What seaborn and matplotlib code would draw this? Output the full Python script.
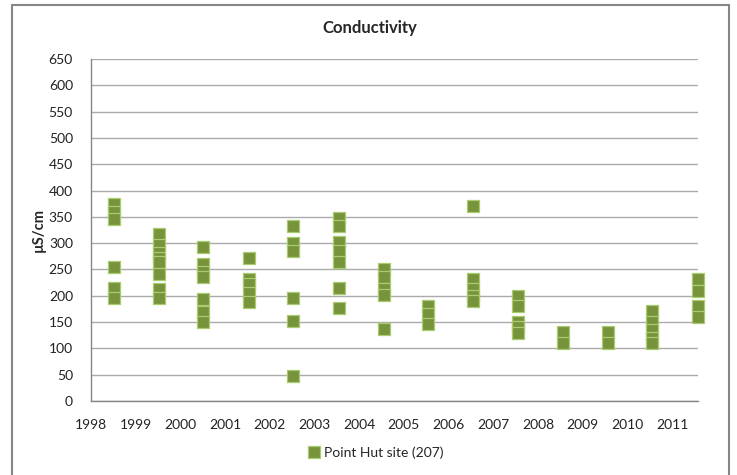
import matplotlib
matplotlib.use("Agg")
import matplotlib.pyplot as plt
import seaborn as sns
import pandas as pd
from matplotlib.lines import Line2D

# ---- data ----
sample_pos = [1998.51, 1999.52, 2000.51, 2001.53, 2002.53, 2003.54, 2004.55,
              2005.55, 2006.54, 2007.55, 2008.55, 2009.56, 2010.56, 2011.57]
v1998 = [375, 360, 345, 255, 215, 195]
v1999 = [318, 297, 282, 272, 265, 241, 212, 195]
v2000 = [293, 260, 245, 235, 193, 170, 150]
v2001 = [272, 232, 222, 205, 188]
v2002 = [333, 300, 285, 195, 152, 47]
v2003 = [347, 333, 303, 285, 265, 214, 176]
v2004 = [250, 236, 212, 202, 136]
v2005 = [180, 165, 146]
v2006 = [370, 231, 212, 200, 190]
v2007 = [200, 180, 150, 140, 130]
v2008 = [131, 110]
v2009 = [131, 110]
v2010 = [171, 150, 135, 120, 110]
v2011 = [231, 210, 180, 159]
groups = [v1998, v1999, v2000, v2001, v2002, v2003, v2004,
          v2005, v2006, v2007, v2008, v2009, v2010, v2011]
year_ticks = list(range(1998, 2012))
y_ticks = list(range(0, 651, 50))
series_name = "Point Hut site (207)"

rows = []
for pos, vals in zip(sample_pos, groups):
    for v in vals:
        rows.append({"date": pos, "value": v, "site": series_name})
df = pd.DataFrame(rows)

sns.set_theme(style="white")
plt.rcParams["font.family"] = ["Lato", "DejaVu Sans"]

fig = plt.figure(figsize=(7.37, 4.75), dpi=100)
ax = fig.add_axes([91 / 737, 1 - 401 / 475, (697.5 - 91) / 737, (401 - 59) / 475])

fill = "#77933C"
edge = "#A9CC6E"
sns.scatterplot(data=df, x="date", y="value", ax=ax, marker="s", s=68,
                color=fill, edgecolor=edge, linewidth=0.9, legend=False,
                zorder=3)
for coll in ax.collections:
    coll.set_clip_on(False)

ax.set_xlim(1998, 2011.57)
ax.set_ylim(0, 650)
ax.set_xticks(year_ticks)
ax.set_xticklabels([str(y) for y in year_ticks])
ax.set_yticks(y_ticks)
ax.yaxis.grid(True, color="#ababab", linewidth=1)
ax.xaxis.grid(False)
ax.set_axisbelow(True)
for s in ["top", "right"]:
    ax.spines[s].set_visible(False)
for s in ["left", "bottom"]:
    ax.spines[s].set_color("#868686")
    ax.spines[s].set_linewidth(1)
ax.tick_params(axis="both", length=0, labelsize=10, colors="#222222")
ax.tick_params(axis="y", pad=13)
ax.tick_params(axis="x", pad=13)
ax.set_xlabel("")
ax.set_ylabel("µS/cm", fontsize=10.5, fontweight="bold", labelpad=2)

fig.text(370 / 737, 1 - 28 / 475, "Conductivity", ha="center", va="center",
         fontsize=12, fontweight="bold")

handle = Line2D([], [], linestyle="none", marker="s", markersize=8.5,
                markerfacecolor=fill, markeredgecolor=edge, markeredgewidth=0.9)
fig.legend([handle], [series_name], loc="center",
           bbox_to_anchor=(376 / 737, 1 - 453 / 475), frameon=False,
           fontsize=10, handlelength=0.8, handletextpad=0.3)

# chart border (open at the bottom)
bc = "#868686"
fig.add_artist(Line2D([11.5 / 737, 11.5 / 737], [0, 1 - 5 / 475], color=bc, lw=1.5,
                      transform=fig.transFigure))
fig.add_artist(Line2D([11.5 / 737, 729 / 737], [1 - 5 / 475, 1 - 5 / 475], color=bc,
                      lw=1.5, transform=fig.transFigure))
fig.add_artist(Line2D([729 / 737, 729 / 737], [0, 1 - 5 / 475], color=bc, lw=1.5,
                      transform=fig.transFigure))

fig.savefig("out.png", dpi=100)
